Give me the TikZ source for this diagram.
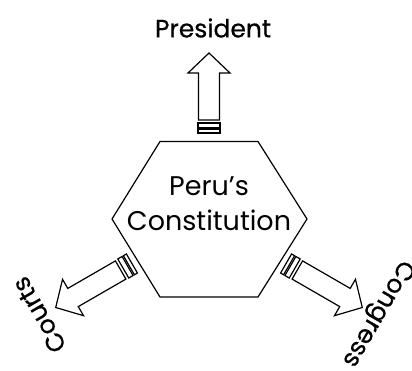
\documentclass[tikz,border=0pt]{standalone}
\usepackage{fontspec}
\setmainfont{Poppins}
\newfontfamily\headfont{Poppins}[FakeBold=0.6]
\usepackage{tikz}

\tikzset{
  outline/.style={draw=black, line width=1.2pt, line join=miter},
  lbl/.style={font=\fontsize{27}{35}\selectfont, inner sep=0pt},
  headlbl/.style={font=\headfont\fontsize{25}{30}\selectfont, inner sep=0pt},
}

% block arrow pointing along +x, starting at r0, with total length #3
\newcommand{\blockarrow}[3]{%
  \begin{scope}[shift={(hexc)}, rotate=#1]
    \draw[outline] (#2,-11) rectangle ({#2+3.5},11);
    \draw[outline] ({#2+5},-11) rectangle ({#2+10},11);
    \draw[outline] ({#2+13},-10.5) -- ({#2+#3-20},-10.5) -- ({#2+#3-20},-21)
      -- ({#2+#3},0) -- ({#2+#3-20},21) -- ({#2+#3-20},10.5) -- ({#2+13},10.5) -- cycle;
  \end{scope}}

\begin{document}
\begin{tikzpicture}[x=1pt, y=1pt]
\useasboundingbox (0,0) rectangle (412,370);
\coordinate (hexc) at (209,151);
% hexagon
\draw[outline] (160,228.5) -- (258,228.5) -- (307,151) -- (258,73) -- (160,73) -- (112,151) -- cycle;
\node[lbl, align=center] (peru) at (209,166) {Peru’s\\Constitution};
% arrows
\blockarrow{90}{86}{80}
\blockarrow{210}{89}{88}
\blockarrow{-30}{89}{88}
% labels
\node[headlbl] (president) at (213,342) {President};
\node[headlbl, rotate=120] (courts) at (39,55) {Courts};
\node[headlbl, rotate=-120] (congress) at (377,57) {Congress};
\end{tikzpicture}
\end{document}
